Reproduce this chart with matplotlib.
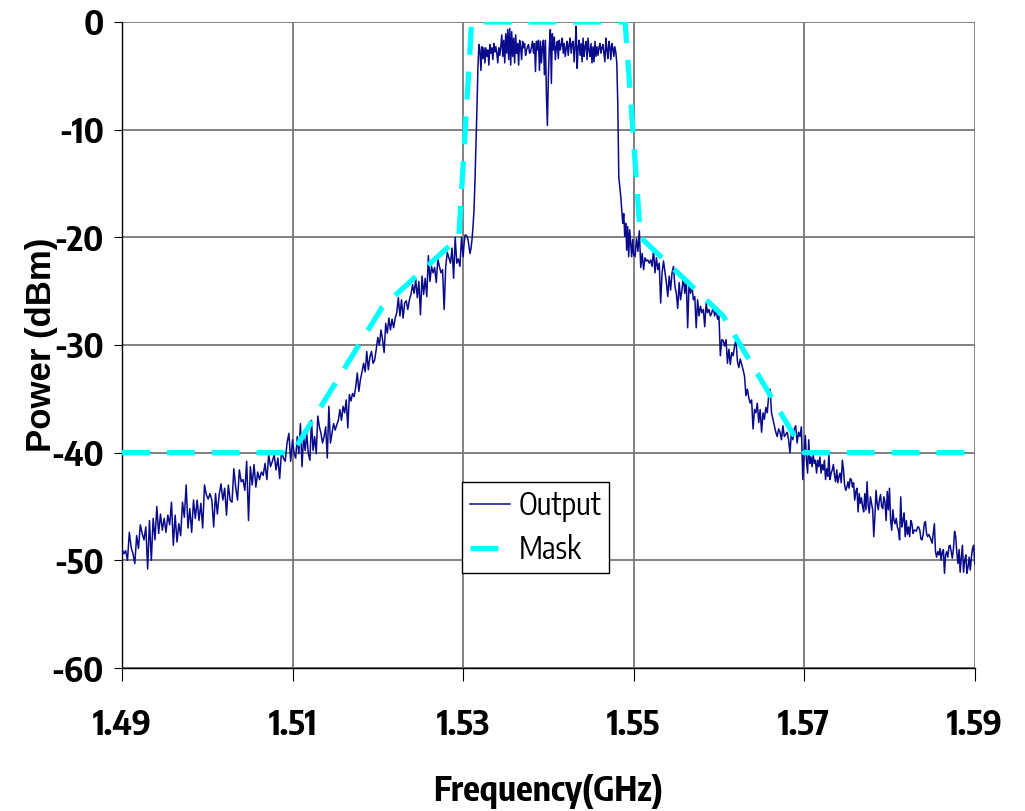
import numpy as np
import matplotlib
matplotlib.use("Agg")
import matplotlib.pyplot as plt

# ---------------------------------------------------------------------------
# Data (power in dBm), split by 0.02 GHz band
# ---------------------------------------------------------------------------
BAND_EDGES = [1.49, 1.51, 1.53, 1.55, 1.57, 1.59]

pwr_149_151 = [
    -48.9, -49.4, -49.1, -50.0, -47.4, -48.8, -49.4, -50.3, -47.7, -48.9,
    -46.7, -47.5, -48.1, -46.9, -50.8, -46.3, -50.0, -46.1, -48.1, -45.0,
    -47.5, -45.7, -47.2, -46.1, -47.4, -45.8, -46.7, -44.6, -48.6, -45.8,
    -48.3, -46.6, -47.7, -44.6, -46.0, -43.0, -47.0, -45.2, -47.4, -44.4,
    -46.1, -44.4, -46.3, -44.7, -47.0, -43.0, -43.9, -44.3, -43.8, -44.4,
    -46.9, -43.8, -45.7, -43.9, -42.9, -44.4, -43.3, -45.8, -43.0, -44.4,
    -44.6, -41.5, -43.2, -44.4, -41.6, -42.7, -42.5, -43.5, -40.8, -46.3,
    -41.3, -43.0, -41.1, -43.2, -41.8, -42.5, -41.8, -42.1, -41.0, -42.5,
    -40.2, -41.3, -40.8, -40.2, -41.6, -40.5, -42.4, -39.8, -40.5, -40.8,
    -39.1, -38.2, -40.8,
]

pwr_151_153 = [
    -38.8, -40.1, -40.5, -38.5, -40.1, -37.3, -41.3, -38.5, -39.8, -38.2,
    -40.1, -40.7, -37.0, -39.8, -38.5, -40.1, -36.6, -37.6, -38.2, -39.1,
    -38.5, -37.6, -40.5, -35.7, -39.1, -38.2, -37.3, -37.9, -37.4, -37.0,
    -36.0, -37.0, -35.7, -36.3, -35.1, -37.7, -34.6, -35.2, -34.5, -34.8,
    -33.9, -32.6, -34.3, -33.2, -32.5, -31.7, -32.5, -30.6, -32.3, -31.1,
    -30.6, -31.7, -31.4, -30.4, -29.3, -30.0, -28.6, -29.5, -30.7, -28.0,
    -28.9, -27.5, -28.6, -27.6, -28.4, -27.5, -27.0, -25.6, -27.3, -25.8,
    -27.5, -26.1, -25.9, -26.7, -25.8, -25.3, -24.4, -25.2, -23.9, -25.6,
    -24.1, -27.2, -23.6, -25.3, -23.8, -25.5, -21.7, -24.1, -22.7, -23.3,
    -22.8, -24.2, -22.0, -22.7, -23.3, -23.0, -26.7, -22.7, -21.4, -21.9,
    -22.4, -21.0, -23.8, -20.0, -22.4, -22.0, -22.7, -20.0,
]

pwr_153_155 = [
    -21.8, -20.6, -19.8, -19.8, -19.9, -20.2, -20.9, -21.5, -21.0, -20.2,
    -19.0, -17.5, -14.7, -11.3, -7.9, -4.1, -2.1,
    -2.6, -4.5, -2.3, -3.4, -2.4, -3.8, -2.4, -3.2, -2.6, -4.0,
    -2.1, -2.9, -2.4, -3.5, -2.0, -2.8, -2.3, -2.9, -3.8, -2.4,
    -3.1, -2.3, -1.2, -3.2, -1.7, -3.8, -1.1, -2.9, -0.7, -3.5,
    -0.6, -4.0, -0.9, -3.2, -1.5, -3.8, -1.2, -2.9, -2.0, -4.0,
    -1.7, -2.3, -3.5, -1.8, -2.4, -2.0, -3.1, -2.6, -2.3, -2.1,
    -2.9, -2.8, -2.3, -1.8, -2.9, -2.0, -4.6, -1.8, -2.6, -1.7,
    -4.5, -1.8, -3.8, -2.3, -1.7, -4.9, -1.7, -6.6, -9.6, -5.1,
    -2.3, -0.7, -5.7, -1.1, -2.6, -1.4, -3.5, -2.3, -1.8, -3.4,
    -1.7, -2.6, -2.1, -1.5, -2.9, -2.0, -3.2, -2.4, -1.8, -3.1,
    -2.1, -1.5, -2.9, -2.0, -1.8, -3.7, -2.3, -0.4, -4.3, -2.4,
    -1.7, -3.1, -2.0, -3.7, -1.5, -3.2, -2.3, -1.8, -3.5, -1.5,
    -2.6, -3.2, -2.0, -3.8, -2.3, -3.7, -1.8, -3.2, -2.3, -3.1,
    -2.4, -2.0, -2.9, -2.4, -2.1, -2.9, -3.7, -1.5, -2.6, -3.4,
    -1.8, -2.3, -3.5, -2.0, -2.4, -3.2, -2.3, -2.8, -3.8, -7.6,
    -14.4, -15.3, -16.2, -17.5, -18.7, -17.8, -19.9, -18.7, -21.2, -19.0,
    -21.8, -19.3, -20.6, -21.8, -20.2,
]

pwr_155_157 = [
    -21.6, -21.8, -20.1, -21.3, -19.4, -22.8, -21.5, -23.0, -21.9, -22.2,
    -22.1, -22.4, -22.1, -22.7, -21.1, -23.3, -21.9, -23.0, -22.4, -26.1,
    -23.3, -22.2, -23.2, -24.2, -25.5, -23.6, -24.9, -23.3, -22.7, -24.5,
    -25.2, -26.6, -24.2, -25.8, -24.9, -23.6, -25.2, -23.9, -28.4, -24.2,
    -25.2, -24.4, -25.8, -25.5, -28.4, -25.8, -27.3, -26.4, -27.0, -26.7,
    -28.3, -26.1, -27.0, -26.7, -27.3, -27.0, -26.4, -27.3, -26.6, -27.6,
    -27.3, -31.0, -29.5, -29.6, -30.1, -29.5, -31.7, -30.4, -31.8, -30.7,
    -31.0, -30.1, -29.5, -31.5, -32.1, -31.3, -31.8, -32.3, -32.9, -34.7,
    -34.1, -34.9, -35.4, -35.1, -37.8, -36.0, -36.3, -35.4, -37.2, -36.0,
    -38.1, -36.3, -36.9, -35.8, -36.3, -34.7, -34.1, -36.3, -36.9, -37.5,
    -38.1, -38.5, -37.8, -38.1, -38.8, -37.5, -38.5, -38.3, -38.1, -38.8,
    -40.0, -38.1, -38.8, -37.8, -37.5, -39.1, -38.1, -38.5, -37.6, -42.5,
]

pwr_157_159 = [
    -39.9, -38.4, -40.7, -41.9, -38.8, -41.0, -40.4, -41.3, -40.2, -41.0,
    -40.7, -41.9, -40.7, -41.3, -40.4, -41.9, -41.1, -41.6, -40.7, -42.5,
    -41.5, -42.2, -40.1, -42.5, -41.9, -41.6, -41.1, -42.1, -42.7, -41.6,
    -42.8, -42.2, -41.9, -42.8, -40.7, -41.6, -43.0, -43.5, -43.2, -42.7,
    -43.3, -42.4, -42.5, -43.2, -42.8, -44.4, -43.6, -43.3, -45.5, -43.8,
    -44.7, -44.2, -45.0, -45.5, -43.8, -45.3, -42.7, -44.9, -45.6, -44.1,
    -44.7, -45.3, -47.8, -45.9, -43.5, -44.7, -45.3, -44.4, -43.9, -45.0,
    -45.2, -44.1, -44.6, -46.3, -43.6, -45.3, -43.3, -46.3, -47.2, -45.3,
    -46.3, -46.6, -46.1, -46.9, -47.2, -48.1, -44.1, -46.9, -46.3, -45.6,
    -47.8, -46.3, -47.6, -46.9, -47.8, -46.3, -46.6, -47.5, -47.2, -47.2,
    -47.3, -46.9, -46.9, -47.2, -48.0, -48.1, -47.6, -46.6, -46.4, -47.5,
    -47.8, -47.6, -47.8, -48.1, -48.4, -47.5, -46.6, -49.2, -49.7, -49.2,
    -49.5, -48.9, -50.0, -49.2, -49.0, -51.2, -49.5, -49.2, -49.7, -48.7,
    -48.6, -49.2, -49.8, -48.9, -47.3, -47.8, -49.3, -50.3, -49.0, -51.1,
    -49.7, -48.6, -51.1, -50.0, -49.5, -51.2, -50.6, -49.7, -50.9, -49.7,
    -48.9, -48.6, -50.3,
]

# spectral mask corner points
mask_freq = [1.49, 1.51, 1.5205, 1.5295, 1.531, 1.549, 1.5508, 1.5605, 1.570, 1.59]
mask_dbm  = [-40, -40, -26.5, -20, 0, 0, -20, -27.3, -40, -40]

x_ticks = [1.49, 1.51, 1.53, 1.55, 1.57, 1.59]
y_ticks = [0, -10, -20, -30, -40, -50, -60]

# ---------------------------------------------------------------------------
# Build the output trace
# ---------------------------------------------------------------------------
bands = [pwr_149_151, pwr_151_153, pwr_153_155, pwr_155_157, pwr_157_159]
freq_parts = []
for k, seg in enumerate(bands):
    last = k == len(bands) - 1
    freq_parts.append(np.linspace(BAND_EDGES[k], BAND_EDGES[k + 1], len(seg),
                                  endpoint=last))
freq = np.concatenate(freq_parts)
power = np.concatenate([np.asarray(b, dtype=float) for b in bands])

NARROW = ["Encode Sans Condensed", "Liberation Sans", "DejaVu Sans"]
BOLD   = ["Liberation Sans", "DejaVu Sans"]

fig = plt.figure(figsize=(10.25, 8.11), dpi=100)
ax = fig.add_axes([0.119, 0.1763, 0.832, 0.7966])

ax.plot(freq, power, color="#0a0a8c", lw=1.1, label="Output", zorder=3)
ax.plot(mask_freq, mask_dbm, color="#00ffff", lw=3.8, dashes=(5.3, 3.2),
        label="Mask", zorder=4)

ax.set_xlim(1.49, 1.59)
ax.set_ylim(-60, 0)
ax.set_xticks(x_ticks)
ax.set_yticks(y_ticks)
ax.set_xticklabels([f"{t:.2f}" for t in x_ticks], family=NARROW,
                   fontweight="bold", fontsize=25)
ax.set_yticklabels([str(t) for t in y_ticks], family=NARROW,
                   fontweight="bold", fontsize=25)

ax.grid(True, color="#777777", lw=1.3, zorder=1)
ax.set_axisbelow(True)
for side in ("top", "right"):
    ax.spines[side].set_visible(False)
for side in ("left", "bottom"):
    ax.spines[side].set_color("black")
    ax.spines[side].set_linewidth(1.0)

ax.tick_params(axis="x", direction="out", length=9, width=0.8, pad=20)
ax.tick_params(axis="y", direction="out", length=6, width=0.8, pad=7)

ax.set_xlabel("Frequency(GHz)", family=NARROW, fontweight="bold",
              fontsize=25, labelpad=22)
ax.set_ylabel("Power (dBm)", family=BOLD, fontweight="bold",
              fontsize=25, labelpad=-5)

leg = ax.legend(loc="upper left", bbox_to_anchor=(0.399, 0.288),
                prop={"family": NARROW, "size": 22}, frameon=True,
                fancybox=False, edgecolor="black", framealpha=1,
                handlelength=1.3, handletextpad=0.3, labelspacing=0.4,
                borderpad=0.25, borderaxespad=0)
leg.get_frame().set_linewidth(1.0)

fig.savefig("out.png", dpi=100, facecolor="white")
